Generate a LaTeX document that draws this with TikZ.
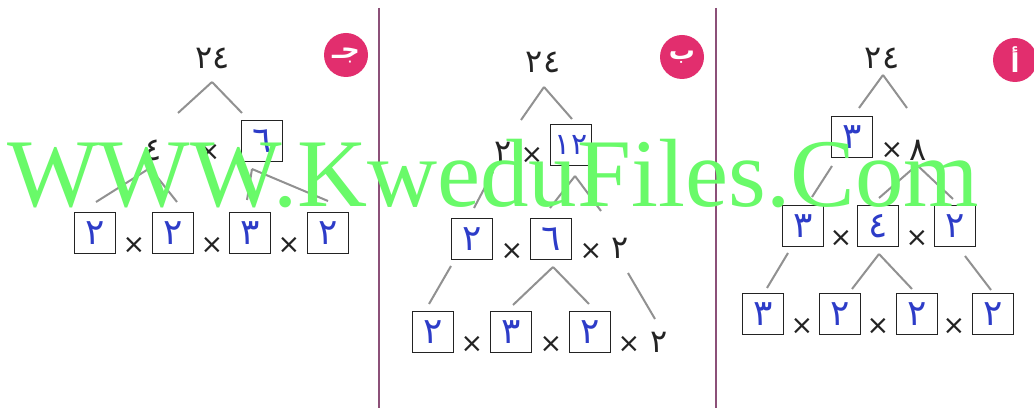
\documentclass[tikz,border=0pt]{standalone}
\usepackage{fontspec}
\newfontfamily\arabicfont[Script=Arabic]{DejaVu Sans}
\newfontfamily\wmfont{Liberation Serif}
\TeXXeTstate=1
\definecolor{TreeGray}{RGB}{145,145,145}
\definecolor{BoxGray}{RGB}{35,35,35}
\definecolor{HandBlue}{RGB}{45,60,200}
\definecolor{BadgePink}{RGB}{226,46,110}
\definecolor{RuleMauve}{RGB}{140,80,120}
\definecolor{MarkGreen}{RGB}{105,250,105}
\tikzset{
  digitbox/.style={rectangle, draw=BoxGray, line width=1.8pt, minimum size=41pt,
    inner sep=0pt, text=HandBlue, font=\arabicfont\fontsize{36}{36}\selectfont},
  num/.style={inner sep=0pt, text=BoxGray, font=\arabicfont\fontsize{32}{32}\selectfont},
  mul/.style={inner sep=0pt, text=BoxGray, font=\arabicfont\fontsize{27}{27}\selectfont},
  branch/.style={draw=TreeGray, line width=2pt},
  badge/.style={circle, fill=BadgePink, minimum size=44pt, inner sep=0pt,
    text=white, font=\arabicfont\bfseries\fontsize{26}{26}\selectfont},
  divider/.style={draw=RuleMauve, line width=1.2pt},
  wmtext/.style={inner sep=0pt, anchor=base west, text=MarkGreen,
    font=\wmfont\fontsize{97}{97}\selectfont}
}
\begin{document}
\begin{tikzpicture}[x=1pt, y=-1pt]
  \clip (0,0) rectangle (1034,411);
  \fill[white] (0,0) rectangle (1034,411);
  \draw[divider] (379,8) -- (379,408);
  \draw[divider] (716,8) -- (716,408);

  % tree c
  \node[num] (c24) at (213,58) {٢٤};
  \node[badge] (cbadge) at (346,55) {\beginR جـ\endR};
  \node[num] (c4) at (153,150) {٤};
  \node[mul] (cx0) at (209,152) {×};
  \node[digitbox] (c6) at (262,141) {٦};
  \node[digitbox] (cb1) at (95,233) {٢};
  \node[mul] (cx1) at (134,245) {×};
  \node[digitbox] (cb2) at (173,233) {٢};
  \node[mul] (cx2) at (212,245) {×};
  \node[digitbox] (cb3) at (250,233) {٣};
  \node[mul] (cx3) at (289,245) {×};
  \node[digitbox] (cb4) at (328,233) {٢};

  \draw[branch] ([xshift=-1pt,yshift=-24pt]c24.center) -- ([xshift=25pt,yshift=37pt]c4.center);
  \draw[branch] ([xshift=-1pt,yshift=-24pt]c24.center) -- ([xshift=-20pt,yshift=28pt]c6.center);
  \draw[branch] ([xshift=-3pt,yshift=-18pt]c4.center) -- ([xshift=1pt,yshift=31pt]cb1.center);
  \draw[branch] ([xshift=-3pt,yshift=-18pt]c4.center) -- ([xshift=4pt,yshift=31pt]cb2.center);
  \draw[branch] ([xshift=-10pt,yshift=-28pt]c6.center) -- ([xshift=-3pt,yshift=33pt]cb3.center);
  \draw[branch] ([xshift=-10pt,yshift=-28pt]c6.center) -- ([yshift=32pt]cb4.center);

  % tree b
  \node[num] (b24) at (543,62) {٢٤};
  \node[badge] (bbadge) at (682,57) {\beginR ب\endR};
  \node[num] (b2) at (503,152) {٢};
  \node[mul] (bx0) at (532,155) {×};
  \node[digitbox, font=\arabicfont\fontsize{30}{30}\selectfont] (b12) at (571,145) {١٢};
  \node[digitbox] (bm1) at (472,239) {٢};
  \node[mul] (bx1) at (512,251) {×};
  \node[digitbox] (bm2) at (551,239) {٦};
  \node[mul] (bx2) at (591,251) {×};
  \node[num] (bm3) at (620,248) {٢};
  \node[digitbox] (bb1) at (433,332) {٢};
  \node[mul] (bx3) at (472,344) {×};
  \node[digitbox] (bb2) at (511,332) {٣};
  \node[mul] (bx4) at (551,344) {×};
  \node[digitbox] (bb3) at (590,332) {٢};
  \node[mul] (bx5) at (629,344) {×};
  \node[num] (bb4) at (659,342) {٢};

  \draw[branch] ([xshift=1pt,yshift=-25pt]b24.center) -- ([xshift=18pt,yshift=32pt]b2.center);
  \draw[branch] ([xshift=1pt,yshift=-25pt]b24.center) -- ([xshift=1pt,yshift=26pt]b12.center);
  \draw[branch] ([xshift=-10pt,yshift=-20pt]b2.center) -- ([xshift=2pt,yshift=31pt]bm1.center);
  \draw[branch] ([xshift=4pt,yshift=-31pt]b12.center) -- ([xshift=-1pt,yshift=31pt]bm2.center);
  \draw[branch] ([xshift=4pt,yshift=-31pt]b12.center) -- ([xshift=-19pt,yshift=37pt]bm3.center);
  \draw[branch] ([xshift=-21pt,yshift=-27pt]bm1.center) -- ([xshift=-4pt,yshift=28pt]bb1.center);
  \draw[branch] ([xshift=2pt,yshift=-28pt]bm2.center) -- ([xshift=2pt,yshift=27pt]bb2.center);
  \draw[branch] ([xshift=2pt,yshift=-28pt]bm2.center) -- ([xshift=-1pt,yshift=28pt]bb3.center);
  \draw[branch] ([xshift=8pt,yshift=-25pt]bm3.center) -- ([xshift=-4pt,yshift=23pt]bb4.center);

  % tree a
  \node[num] (a24) at (882,58) {٢٤};
  \node[badge] (abadge) at (1015,60) {\beginR أ\endR};
  \node[digitbox] (a3) at (852,137) {٣};
  \node[mul] (ax0) at (892,150) {×};
  \node[num] (a8) at (918,150) {٨};
  \node[digitbox] (am1) at (803,226) {٣};
  \node[mul] (ax1) at (841,238) {×};
  \node[digitbox] (am2) at (878,226) {٤};
  \node[mul] (ax2) at (917,238) {×};
  \node[digitbox] (am3) at (955,226) {٢};
  \node[digitbox] (ab1) at (763,314) {٣};
  \node[mul] (ax3) at (802,326) {×};
  \node[digitbox] (ab2) at (840,314) {٢};
  \node[mul] (ax4) at (878,326) {×};
  \node[digitbox] (ab3) at (917,314) {٢};
  \node[mul] (ax5) at (954,326) {×};
  \node[digitbox] (ab4) at (993,314) {٢};

  \draw[branch] ([xshift=1pt,yshift=-17pt]a24.center) -- ([xshift=7pt,yshift=29pt]a3.center);
  \draw[branch] ([xshift=1pt,yshift=-17pt]a24.center) -- ([xshift=-11pt,yshift=42pt]a8.center);
  \draw[branch] ([xshift=-20pt,yshift=-29pt]a3.center) -- ([xshift=9pt,yshift=29pt]am1.center);
  \draw[branch] ([xshift=-1pt,yshift=-15pt]a8.center) -- ([xshift=1pt,yshift=28pt]am2.center);
  \draw[branch] ([xshift=-1pt,yshift=-15pt]a8.center) -- ([xshift=-2pt,yshift=27pt]am3.center);
  \draw[branch] ([xshift=-15pt,yshift=-27pt]am1.center) -- ([xshift=4pt,yshift=26pt]ab1.center);
  \draw[branch] ([xshift=1pt,yshift=-28pt]am2.center) -- ([xshift=12pt,yshift=25pt]ab2.center);
  \draw[branch] ([xshift=1pt,yshift=-28pt]am2.center) -- ([xshift=-5pt,yshift=25pt]ab3.center);
  \draw[branch] ([xshift=10pt,yshift=-30pt]am3.center) -- ([xshift=-2pt,yshift=24pt]ab4.center);

  \node[wmtext] (wm) at (7,207) {WWW.KweduFiles.Com};
\end{tikzpicture}
\end{document}
